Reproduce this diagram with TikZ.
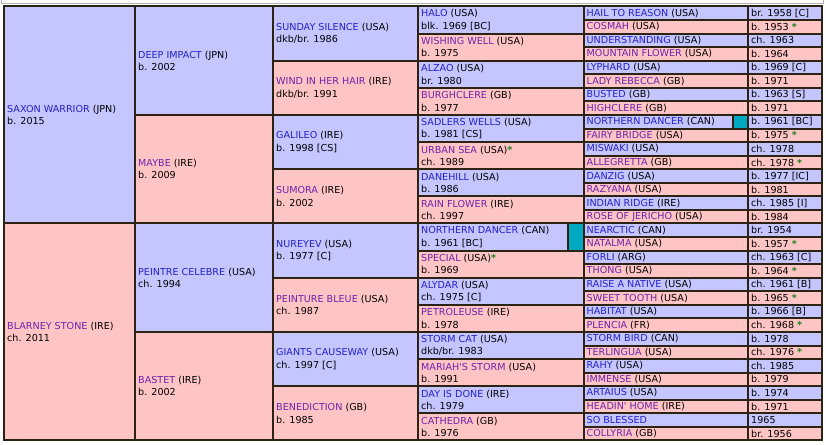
\documentclass[tikz,border=0pt]{standalone}
\usepackage{fontspec}
\setmainfont{DejaVu Sans}
\definecolor{mbg}{RGB}{197,197,255}
\definecolor{fbg}{RGB}{255,197,197}
\definecolor{mtx}{RGB}{35,35,200}
\definecolor{ftx}{RGB}{110,35,170}
\definecolor{gridc}{RGB}{45,35,20}
\definecolor{tealc}{RGB}{0,168,192}
\definecolor{starc}{RGB}{30,130,30}
\newcommand\gstar{\textcolor{starc}{\bfseries*}}
\begin{document}
\begin{tikzpicture}[x=1pt,y=-1pt,
  txt/.style={anchor=west, inner sep=0pt, align=left, font=\fontsize{9.6}{12.3}\selectfont, text=black},
  gridline/.style={draw=gridc, line width=2pt, line cap=rect}]
\useasboundingbox (0,0) rectangle (826,444);
\fill[white] (0,0) rectangle (826,444);
\draw[gray!60, line width=0.8pt] (1,0) -- (1,3.3) -- (823,3.3) -- (823,0);
% generation 1
\foreach \i/\s/\nm/\ct/\dt in {0/m/SAXON WARRIOR/(JPN)/{b. 2015},1/f/BLARNEY STONE/(IRE)/{ch. 2011}}{
  \fill[fill=\s bg] (4,{6.5+13.56*16*\i}) rectangle (135,{6.5+13.56*16*(\i+1)});
  \node[txt] (ga\i) at (7,{6.5+13.56*(16*\i+8)}) {\textcolor{\s tx}{\nm} \ct\\\dt};
}
% generation 2
\foreach \i/\s/\nm/\ct/\dt in {0/m/DEEP IMPACT/(JPN)/{b. 2002},1/f/MAYBE/(IRE)/{b. 2009},2/m/PEINTRE CELEBRE/(USA)/{ch. 1994},3/f/BASTET/(IRE)/{b. 2002}}{
  \fill[fill=\s bg] (135,{6.5+13.56*8*\i}) rectangle (273,{6.5+13.56*8*(\i+1)});
  \node[txt] (gb\i) at (138,{6.5+13.56*(8*\i+4)}) {\textcolor{\s tx}{\nm} \ct\\\dt};
}
% generation 3
\foreach \i/\s/\nm/\ct/\dt in {0/m/SUNDAY SILENCE/(USA)/{dkb/br. 1986},1/f/WIND IN HER HAIR/(IRE)/{dkb/br. 1991},2/m/GALILEO/(IRE)/{b. 1998 [CS]},3/f/SUMORA/(IRE)/{b. 2002},4/m/NUREYEV/(USA)/{b. 1977 [C]},5/f/PEINTURE BLEUE/(USA)/{ch. 1987},6/m/GIANTS CAUSEWAY/(USA)/{ch. 1997 [C]},7/f/BENEDICTION/(GB)/{b. 1985}}{
  \fill[fill=\s bg] (273,{6.5+13.56*4*\i}) rectangle (418,{6.5+13.56*4*(\i+1)});
  \node[txt] (gc\i) at (276,{6.5+13.56*(4*\i+2)}) {\textcolor{\s tx}{\nm} \ct\\\dt};
}
% generation 4
\foreach \i/\s/\nm/\ct/\dt in {0/m/HALO/(USA)/{blk. 1969 [BC]},1/f/WISHING WELL/(USA)/{b. 1975},2/m/ALZAO/(USA)/{br. 1980},3/f/BURGHCLERE/(GB)/{b. 1977},4/m/SADLERS WELLS/(USA)/{b. 1981 [CS]},5/f/URBAN SEA/{(USA)\gstar}/{ch. 1989},6/m/DANEHILL/(USA)/{b. 1986},7/f/RAIN FLOWER/(IRE)/{ch. 1997},8/m/NORTHERN DANCER/(CAN)/{b. 1961 [BC]},9/f/SPECIAL/{(USA)\gstar}/{b. 1969},10/m/ALYDAR/(USA)/{ch. 1975 [C]},11/f/PETROLEUSE/(IRE)/{b. 1978},12/m/STORM CAT/(USA)/{dkb/br. 1983},13/f/MARIAH\textquotesingle S STORM/(USA)/{b. 1991},14/m/DAY IS DONE/(IRE)/{ch. 1979},15/f/CATHEDRA/(GB)/{b. 1976}}{
  \fill[fill=\s bg] (418,{6.5+13.56*2*\i}) rectangle (583.5,{6.5+13.56*2*(\i+1)});
  \node[txt] (gd\i) at (421,{6.5+13.56*(2*\i+1)}) {\textcolor{\s tx}{\nm} \ct\\\dt};
}
% generation 5
\foreach \k/\s/\nm/\ct/\dt in {0/m/HAIL TO REASON/(USA)/{br. 1958 [C]},1/f/COSMAH/(USA)/{b. 1953 \gstar},2/m/UNDERSTANDING/(USA)/{ch. 1963},3/f/MOUNTAIN FLOWER/(USA)/{b. 1964},4/m/LYPHARD/(USA)/{b. 1969 [C]},5/f/LADY REBECCA/(GB)/{b. 1971},6/m/BUSTED/(GB)/{b. 1963 [S]},7/f/HIGHCLERE/(GB)/{b. 1971},8/m/NORTHERN DANCER/(CAN)/{b. 1961 [BC]},9/f/FAIRY BRIDGE/(USA)/{b. 1975 \gstar},10/m/MISWAKI/(USA)/{ch. 1978},11/f/ALLEGRETTA/(GB)/{ch. 1978 \gstar},12/m/DANZIG/(USA)/{b. 1977 [IC]},13/f/RAZYANA/(USA)/{b. 1981},14/m/INDIAN RIDGE/(IRE)/{ch. 1985 [I]},15/f/ROSE OF JERICHO/(USA)/{b. 1984},16/m/NEARCTIC/(CAN)/{br. 1954},17/f/NATALMA/(USA)/{b. 1957 \gstar},18/m/FORLI/(ARG)/{ch. 1963 [C]},19/f/THONG/(USA)/{b. 1964 \gstar},20/m/RAISE A NATIVE/(USA)/{ch. 1961 [B]},21/f/SWEET TOOTH/(USA)/{b. 1965 \gstar},22/m/HABITAT/(USA)/{b. 1966 [B]},23/f/PLENCIA/(FR)/{ch. 1968 \gstar},24/m/STORM BIRD/(CAN)/{b. 1978},25/f/TERLINGUA/(USA)/{ch. 1976 \gstar},26/m/RAHY/(USA)/{ch. 1985},27/f/IMMENSE/(USA)/{b. 1979},28/m/ARTAIUS/(USA)/{b. 1974},29/f/HEADIN\textquotesingle\ HOME/(IRE)/{b. 1971},30/m/SO BLESSED//{1965},31/f/COLLYRIA/(GB)/{br. 1956}}{
  \fill[fill=\s bg] (583.5,{6.5+13.56*\k}) rectangle (822,{6.5+13.56*(\k+1)});
  \node[txt] (gn\k) at (586.5,{6.5+13.56*(\k+0.5)}) {\textcolor{\s tx}{\nm} \ct};
  \node[txt] (ge\k) at (751,{6.5+13.56*(\k+0.5)}) {\dt};
}
% inbreeding markers
\fill[tealc] (733,{6.5+13.56*8}) rectangle (748,{6.5+13.56*9});
\fill[tealc] (567.5,{6.5+13.56*16}) rectangle (583.5,{6.5+13.56*18});
\draw[gridline] (733,{6.5+13.56*8}) -- (733,{6.5+13.56*9});
\draw[gridline] (567.5,{6.5+13.56*16}) -- (567.5,{6.5+13.56*18});
% grid lines
\foreach \x in {4,135,273,418,583.5,748,822}
  \draw[gridline] (\x,6.5) -- (\x,{6.5+13.56*32});
\foreach \k in {0,16,32} \draw[gridline] (4,{6.5+13.56*\k}) -- (822,{6.5+13.56*\k});
\foreach \k in {8,24} \draw[gridline] (135,{6.5+13.56*\k}) -- (822,{6.5+13.56*\k});
\foreach \k in {4,12,20,28} \draw[gridline] (273,{6.5+13.56*\k}) -- (822,{6.5+13.56*\k});
\foreach \k in {2,6,...,30} \draw[gridline] (418,{6.5+13.56*\k}) -- (822,{6.5+13.56*\k});
\foreach \k in {1,3,...,31} \draw[gridline] (583.5,{6.5+13.56*\k}) -- (822,{6.5+13.56*\k});
\end{tikzpicture}
\end{document}
